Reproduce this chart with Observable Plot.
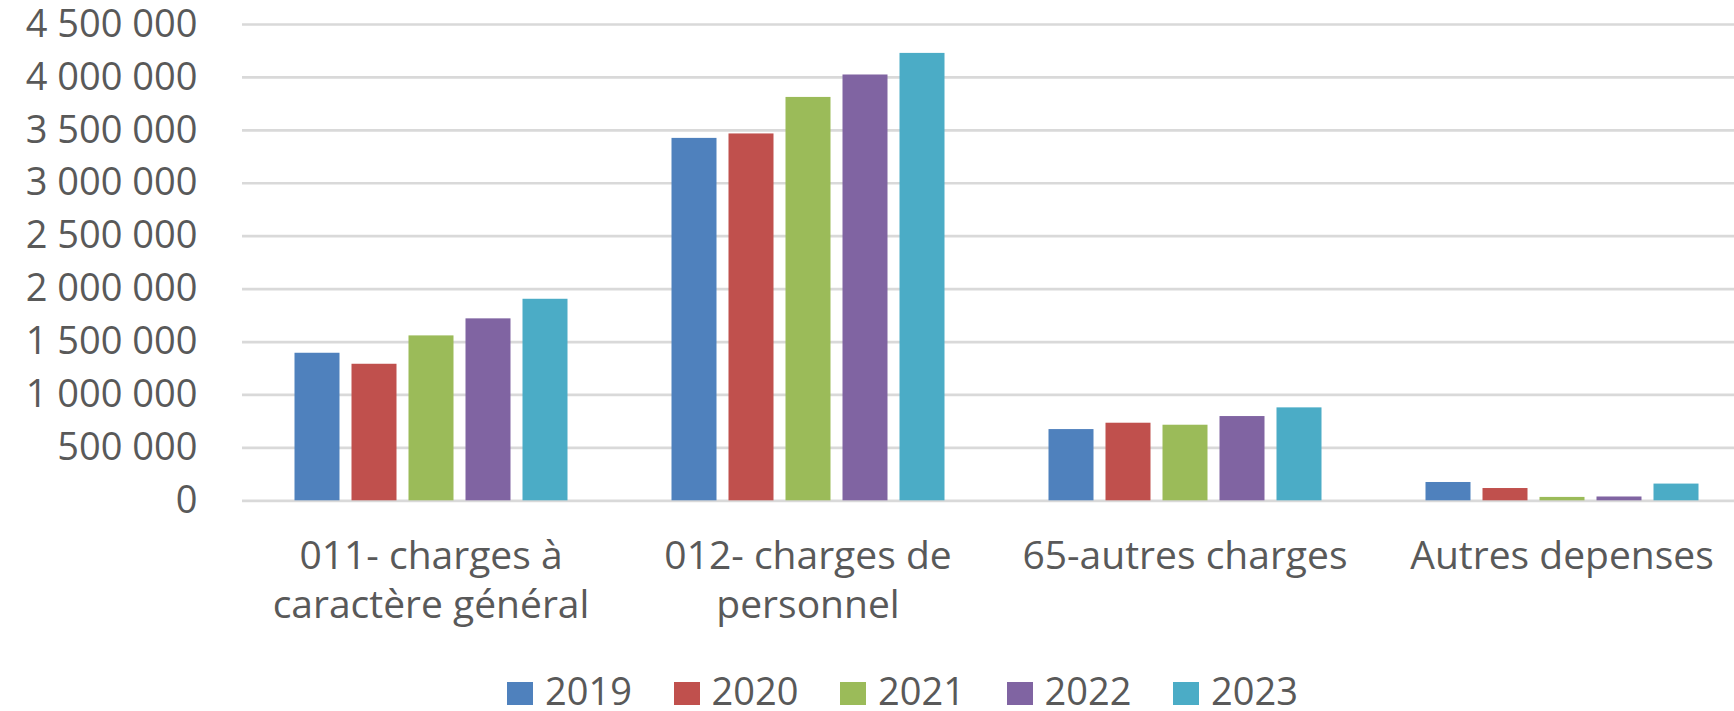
<!DOCTYPE html>
<html>
<head>
<meta charset="utf-8">
<script src="https://cdn.jsdelivr.net/npm/d3@7"></script>
<script src="https://cdn.jsdelivr.net/npm/@observablehq/plot@0.6"></script>
<style>
  html, body { margin: 0; padding: 0; overflow: hidden; background: #fff; }
  body { width: 1734px; height: 711px; font-family: "Open Sans", sans-serif; }
  #chart svg { display: block; max-width: none !important; }
  #legend { height: 61px; box-sizing: border-box; padding-top: 22px; padding-left: 507px; display: flex; }
  .item { display: flex; align-items: center; width: 166.5px; height: 36px; color: #595959; }
  .sw { width: 26px; height: 23px; margin-top: 6px; margin-right: 12px; flex: none; }
  .lab { display: block; font-size: 38px; line-height: 36px; height: 36px; overflow: visible; }
</style>
</head>
<body>
<div id="chart"></div>
<div id="legend"></div>
<script>
const categories = ["011- charges à caractère général", "012- charges de personnel", "65-autres charges", "Autres depenses"];
const categoryLabels = ["011- charges à\ncaractère général", "012- charges de\npersonnel", "65-autres charges", "Autres depenses"];
const years = ["2019", "2020", "2021", "2022", "2023"];
const v2019 = [1394000, 3424000, 673000, 173000];
const v2020 = [1290000, 3466000, 733000, 116000];
const v2021 = [1558000, 3811000, 714000, 32000];
const v2022 = [1719000, 4023000, 796000, 36000];
const v2023 = [1904000, 4227000, 878000, 158000];
const colors = ["#4F81BD", "#C0504D", "#9BBB59", "#8064A2", "#4BACC6"];
const yTicks = [0, 500000, 1000000, 1500000, 2000000, 2500000, 3000000, 3500000, 4000000, 4500000];

const series = [v2019, v2020, v2021, v2022, v2023];
const data = [];
categories.forEach((c, i) => {
  years.forEach((y, j) => data.push({category: c, year: y, value: series[j][i]}));
});

const fmt = d3.formatLocale({decimal: ",", thousands: " ", grouping: [3], currency: ["", "€"]}).format(",d");
const labelOf = new Map(categories.map((c, i) => [c, categoryLabels[i]]));

const chart = Plot.plot({
  width: 1751,
  height: 650,
  marginLeft: 240.5,
  marginRight: 0,
  marginTop: 24,
  marginBottom: 149.7,
  style: {fontFamily: "Open Sans, sans-serif", fontSize: "39px", color: "#595959", background: "white", overflow: "visible"},
  fx: {domain: categories, padding: 0},
  x: {domain: years, paddingInner: 0.216, paddingOuter: 0.862, axis: null},
  y: {domain: [0, 4500000], axis: null},
  color: {domain: years, range: colors},
  marks: [
    Plot.ruleY(yTicks, {y: d => d, stroke: "#d9d9d9", strokeWidth: 2.7}),
    Plot.barY(data, {fx: "category", x: "year", y: "value", fill: "year"}),
    Plot.axisY({ticks: yTicks, tickFormat: fmt, tickSize: 0, tickPadding: 45, fontSize: 38, fill: "#595959", label: null}),
    Plot.axisFx({anchor: "bottom", tickFormat: d => labelOf.get(d), tickSize: 0, tickPadding: 33, fontSize: 39, lineHeight: 1.26, fill: "#595959", label: null})
  ]
});
document.getElementById("chart").appendChild(chart);

const legend = document.getElementById("legend");
years.forEach((y, i) => {
  const item = document.createElement("div");
  item.className = "item";
  const sw = document.createElement("div");
  sw.className = "sw";
  sw.style.background = colors[i];
  const t = document.createElement("span");
  t.className = "lab";
  t.textContent = y;
  item.appendChild(sw);
  item.appendChild(t);
  legend.appendChild(item);
});
</script>
</body>
</html>
